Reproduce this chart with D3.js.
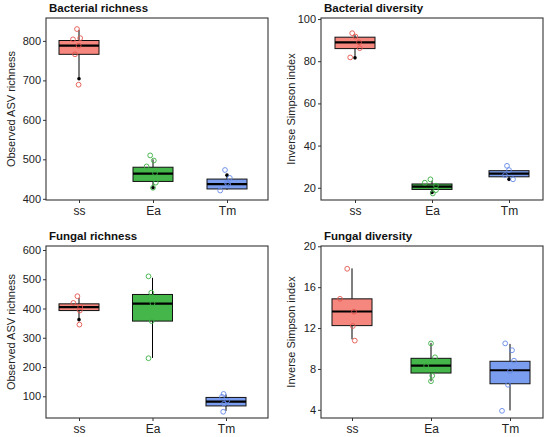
<!DOCTYPE html>
<html>
<head>
<meta charset="utf-8">
<script src="https://cdn.jsdelivr.net/npm/d3@7"></script>
<style>
  body { margin: 0; background: #fff; }
  svg { display: block; font-family: "Liberation Sans", Arial, sans-serif; }
</style>
</head>
<body>
<div id="chart"></div>
<script>
// --- data ---
const categories = ['ss', 'Ea', 'Tm'];
const panelTitles = ['Bacterial richness', 'Bacterial diversity', 'Fungal richness', 'Fungal diversity'];
const yLabels = ['Observed ASV richness', 'Inverse Simpson index', 'Observed ASV richness', 'Inverse Simpson index'];
const yTicks = [
    [400, 500, 600, 700, 800],
    [20, 40, 60, 80, 100],
    [100, 200, 300, 400, 500, 600],
    [4, 8, 12, 16, 20]
];
const yDomains = [[397, 858], [14.2, 100.5], [25.7, 613.7], [3.2, 20.03]];

// [lower whisker, Q1, median, Q3, upper whisker] per category
const boxStats = [
    [[704, 766, 788, 801, 828], [428, 444, 464, 480, 500], [423, 425, 437, 450, 460]],
    [[81.6, 86.0, 88.9, 91.4, 92.5], [17.8, 19.2, 20.5, 21.8, 23.3], [24.0, 25.2, 26.7, 28.1, 28.3]],
    [[362, 393, 405, 416, 436], [231, 357, 417, 448, 505], [50, 67, 81.5, 96, 106]],
    [[10.9, 12.24, 13.62, 14.86, 17.84], [6.79, 7.6, 8.32, 9.04, 10.55], [3.94, 6.55, 7.87, 8.75, 10.45]]
];

// individual samples (hollow circles)
const samples = [
    [[830, 804, 807, 788, 766, 689], [510, 497, 482, 465, 441, 428], [473, 453, 440, 421, 437]],
    [[93.3, 91.7, 89.0, 86.2, 81.8], [24.0, 22.4, 21.0, 18.9, 17.3], [30.4, 28.4, 26.0, 24.0]],
    [[442, 419, 405, 393, 345], [510, 454, 417, 357, 230], [108, 98, 85, 75, 47]],
    [[17.8, 14.86, 13.6, 12.2, 10.77], [10.5, 9.14, 8.3, 7.33, 6.8], [10.5, 9.83, 8.81, 7.8, 6.45, 3.9]]
];
// horizontal jitter of each sample, in box-widths
const jitter = [
    [[-0.05, -0.15, 0.03, -0.01, -0.1, -0.01], [-0.07, 0.02, -0.16, 0.05, 0.07, 0.0], [-0.05, 0.07, 0.0, -0.17, 0.03]],
    [[-0.07, 0.01, 0.1, 0.12, -0.12], [-0.04, -0.18, 0.1, 0.1, 0.02], [-0.05, 0.0, -0.1, 0.1]],
    [[-0.04, -0.14, 0.03, 0.02, 0.01], [-0.1, -0.03, 0.0, -0.02, -0.1], [-0.06, -0.1, 0.03, -0.05, -0.07]],
    [[-0.12, -0.3, 0.05, 0.02, 0.07], [0.0, 0.1, -0.12, 0.03, 0.0], [-0.12, 0.05, 0.1, 0.0, -0.05, -0.2]]
];
// black points at whisker ends
const blackDots = [
    [[704], [428], [460]],
    [[81.6], [17.8], [24.0]],
    [[362], [], []],
    [[], [], []]
];

const boxFill = ['#f5877f', '#45b74a', '#7b9df0'];
const pointStroke = ['#e4554e', '#3bb043', '#6388e6'];

// --- layout ---
const W = 550, H = 437;
const panels = [
    { x: 46, y: 18, w: 222, h: 182, range: [33, 181], labelX: 11 },
    { x: 321, y: 18, w: 222, h: 182, range: [34, 188], labelX: 291 },
    { x: 46, y: 246, w: 222, h: 172, range: [33, 180], labelX: 11 },
    { x: 321, y: 246, w: 222, h: 172, range: [31, 189], labelX: 291 }
];
const boxW = 40;

const svg = d3.select('#chart').append('svg')
    .attr('width', W)
    .attr('height', H);

panels.forEach((p, i) => {
    const g = svg.append('g').attr('transform', `translate(${p.x},${p.y})`);

    const x = d3.scalePoint().domain(categories).range(p.range);
    const y = d3.scaleLinear().domain(yDomains[i]).range([p.h, 0]);

    // title
    svg.append('text')
        .attr('x', p.x + 3)
        .attr('y', p.y - 6.5)
        .attr('font-size', '11.5px')
        .attr('font-weight', 'bold')
        .attr('fill', '#111')
        .text(panelTitles[i]);

    // y label
    svg.append('text')
        .attr('transform', `translate(${p.labelX + 4},${p.y + p.h / 2}) rotate(-90)`)
        .attr('text-anchor', 'middle')
        .attr('font-size', '11px')
        .attr('fill', '#222')
        .text(yLabels[i]);

    // axes
    const yAxis = g.append('g')
        .call(d3.axisLeft(y).tickValues(yTicks[i]).tickSize(3).tickPadding(2));
    const xAxis = g.append('g')
        .attr('transform', `translate(0,${p.h})`)
        .call(d3.axisBottom(x).tickSize(3).tickPadding(3));
    [yAxis, xAxis].forEach(a => {
        a.select('.domain').remove();
        a.selectAll('line').attr('stroke', '#333');
        a.selectAll('text').attr('fill', '#222').attr('font-size', '11px')
            .attr('font-family', '"Liberation Sans", Arial, sans-serif');
    });
    xAxis.selectAll('text').attr('font-size', '12px');

    // boxes
    const groups = g.selectAll('g.grp')
        .data(categories.map((c, k) => ({ c, k, s: boxStats[i][k] })))
        .enter()
        .append('g')
        .attr('class', 'grp')
        .attr('transform', d => `translate(${x(d.c)},0)`);

    groups.append('line')
        .attr('y1', d => y(d.s[0])).attr('y2', d => y(d.s[1]))
        .attr('stroke', '#000').attr('stroke-width', 1);
    groups.append('line')
        .attr('y1', d => y(d.s[3])).attr('y2', d => y(d.s[4]))
        .attr('stroke', '#000').attr('stroke-width', 1);
    groups.append('rect')
        .attr('x', -boxW / 2)
        .attr('width', boxW)
        .attr('y', d => y(d.s[3]))
        .attr('height', d => y(d.s[1]) - y(d.s[3]))
        .attr('fill', d => boxFill[d.k])
        .attr('stroke', '#111')
        .attr('stroke-width', 1);
    groups.append('line')
        .attr('x1', -boxW / 2).attr('x2', boxW / 2)
        .attr('y1', d => y(d.s[2])).attr('y2', d => y(d.s[2]))
        .attr('stroke', '#000').attr('stroke-width', 2.2);

    // black dots
    groups.selectAll('circle.bd')
        .data(d => blackDots[i][d.k])
        .enter()
        .append('circle')
        .attr('class', 'bd')
        .attr('cy', v => y(v))
        .attr('r', 1.8)
        .attr('fill', '#000');

    // hollow sample points
    groups.selectAll('circle.pt')
        .data(d => samples[i][d.k].map((v, j) => ({ v, dx: jitter[i][d.k][j], k: d.k })))
        .enter()
        .append('circle')
        .attr('class', 'pt')
        .attr('cx', d => d.dx * boxW)
        .attr('cy', d => y(d.v))
        .attr('r', 2.4)
        .attr('fill', 'none')
        .attr('stroke', d => pointStroke[d.k])
        .attr('stroke-width', 0.9);

    // panel border
    g.append('rect')
        .attr('width', p.w)
        .attr('height', p.h)
        .attr('fill', 'none')
        .attr('stroke', '#333')
        .attr('stroke-width', 1.1);
});
</script>
</body>
</html>
